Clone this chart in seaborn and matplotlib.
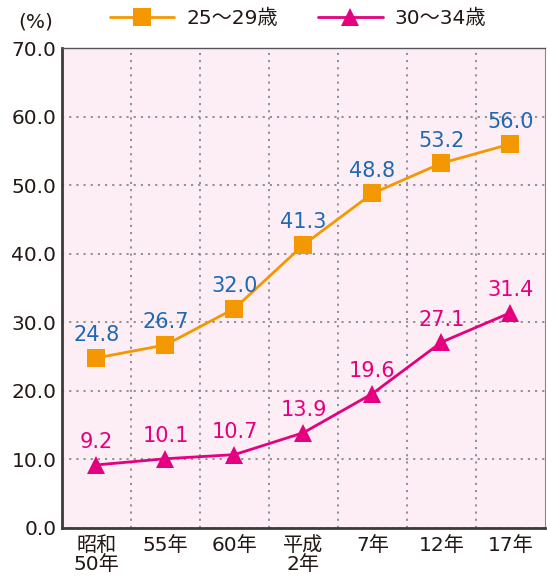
import pandas as pd
import seaborn as sns
import matplotlib.pyplot as plt
from matplotlib.ticker import MultipleLocator, FixedLocator

years = ['昭和\n50年', '55年', '60年', '平成\n2年', '7年', '12年', '17年']
age_25_29 = [24.8, 26.7, 32.0, 41.3, 48.8, 53.2, 56.0]
age_30_34 = [9.2, 10.1, 10.7, 13.9, 19.6, 27.1, 31.4]
series_names = ['25～29歳', '30～34歳']

df = pd.DataFrame({'year': years * 2,
                   'rate': age_25_29 + age_30_34,
                   'group': [series_names[0]] * 7 + [series_names[1]] * 7})

sns.set_style('white')
plt.rcParams['font.family'] = ['DejaVu Sans', 'Noto Sans CJK JP']

ORANGE = '#F39800'
PINK = '#E4007F'
BLUE = '#1F68B2'
TEXT = '#231815'
FS = 14.5

fig = plt.figure(figsize=(5.47, 5.82), dpi=100)
ax = fig.add_axes([0.1133, 0.0928, 0.883, 0.8247])
ax.set_facecolor('#FDEEF5')

sns.lineplot(data=df, x='year', y='rate', hue='group', style='group',
             palette=[ORANGE, PINK], markers=['s', '^'], dashes=False,
             markersize=12.5, markeredgewidth=0, linewidth=2, ax=ax)

# data labels
for i, v in enumerate(age_25_29):
    ax.annotate(f'{v:.1f}', (i, v), xytext=(0, 9), textcoords='offset points',
                ha='center', va='bottom', color=BLUE, fontsize=15)
for i, v in enumerate(age_30_34):
    ax.annotate(f'{v:.1f}', (i, v), xytext=(0, 9), textcoords='offset points',
                ha='center', va='bottom', color=PINK, fontsize=15)

ax.set_xlim(-0.5, 6.5)
ax.set_ylim(0, 70)
ax.yaxis.set_major_locator(MultipleLocator(10))
ax.yaxis.set_major_formatter(plt.FuncFormatter(lambda v, p: f'{v:.1f}'))
ax.xaxis.set_minor_locator(FixedLocator([0.5, 1.5, 2.5, 3.5, 4.5, 5.5]))
ax.grid(axis='y', which='major', color='#808080', linestyle=(0, (1.3, 3)), linewidth=1.2)
ax.grid(axis='x', which='minor', color='#808080', linestyle=(0, (1.3, 3)), linewidth=1.2)
ax.set_axisbelow(True)

ax.tick_params(axis='both', which='both', length=0, labelsize=FS, colors=TEXT)
ax.tick_params(axis='x', pad=6)
ax.tick_params(axis='y', pad=4)
for lbl in ax.get_xticklabels():
    lbl.set_linespacing(1.0)
ax.set_xlabel(None)
ax.set_ylabel(None)

for side in ['left', 'bottom']:
    ax.spines[side].set_color('#3E3A39')
    ax.spines[side].set_linewidth(2)
ax.spines['top'].set_color('#555555')
ax.spines['top'].set_linewidth(1)
ax.spines['right'].set_color('#888888')
ax.spines['right'].set_linewidth(0.8)

fig.text(0.066, 0.963, '(%)', ha='center', va='center', fontsize=FS, color=TEXT)

handles, labels = ax.get_legend_handles_labels()
ax.legend_.remove()
fig.legend(handles, labels, loc='center', bbox_to_anchor=(0.545, 0.968), ncol=2,
           frameon=False, fontsize=FS, handlelength=3.2, columnspacing=2.0,
           handletextpad=0.6, labelcolor=TEXT)

fig.savefig('out.png', dpi=100)
